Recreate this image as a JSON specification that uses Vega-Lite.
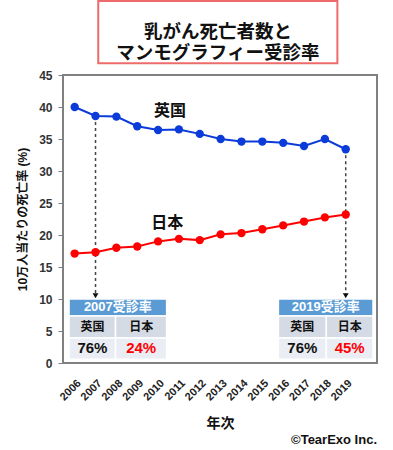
{
  "$schema": "https://vega.github.io/schema/vega-lite/v6.json",
  "width": 314,
  "height": 288,
  "padding": {"left": 16, "top": 0, "right": 5, "bottom": 5},
  "autosize": {"type": "pad"},
  "config": {
    "view": {"stroke": "#808080", "strokeWidth": 2},
    "font": "Liberation Sans, Noto Sans CJK JP",
    "text": {"font": "Liberation Sans, Noto Sans CJK JP"},
    "axis": {"labelOverlap": false, "labelFlush": false, "grid": false, "domain": false}
  },
  "datasets": {
    "series": [
      {"year": 2006, "country": "英国", "rate": 40.0},
      {"year": 2007, "country": "英国", "rate": 38.6},
      {"year": 2008, "country": "英国", "rate": 38.5},
      {"year": 2009, "country": "英国", "rate": 37.0},
      {"year": 2010, "country": "英国", "rate": 36.4},
      {"year": 2011, "country": "英国", "rate": 36.5},
      {"year": 2012, "country": "英国", "rate": 35.8},
      {"year": 2013, "country": "英国", "rate": 35.0},
      {"year": 2014, "country": "英国", "rate": 34.6},
      {"year": 2015, "country": "英国", "rate": 34.6},
      {"year": 2016, "country": "英国", "rate": 34.4},
      {"year": 2017, "country": "英国", "rate": 33.9},
      {"year": 2018, "country": "英国", "rate": 35.0},
      {"year": 2019, "country": "英国", "rate": 33.4},
      {"year": 2006, "country": "日本", "rate": 17.1},
      {"year": 2007, "country": "日本", "rate": 17.3},
      {"year": 2008, "country": "日本", "rate": 18.0},
      {"year": 2009, "country": "日本", "rate": 18.2},
      {"year": 2010, "country": "日本", "rate": 19.0},
      {"year": 2011, "country": "日本", "rate": 19.4},
      {"year": 2012, "country": "日本", "rate": 19.2},
      {"year": 2013, "country": "日本", "rate": 20.1},
      {"year": 2014, "country": "日本", "rate": 20.3},
      {"year": 2015, "country": "日本", "rate": 20.9},
      {"year": 2016, "country": "日本", "rate": 21.5},
      {"year": 2017, "country": "日本", "rate": 22.1},
      {"year": 2018, "country": "日本", "rate": 22.75},
      {"year": 2019, "country": "日本", "rate": 23.2}
    ],
    "titlebox": [{"x1": 2007.13, "x2": 2018.6, "y1": 46.83, "y2": 56.56}],
    "titletext": [
      {"x": 2012.87, "y": 51.76, "label": "乳がん死亡者数と\nマンモグラフィー受診率"}
    ],
    "arrows": [
      {"year": 2007, "from": 38.6, "to": 10.5},
      {"year": 2019, "from": 33.4, "to": 10.5}
    ],
    "serieslabels": [
      {"x": 2010.57, "y": 39.4, "label": "英国"},
      {"x": 2010.44, "y": 21.8, "label": "日本"}
    ],
    "cells": [
      {"part": "header", "x1": 2005.73, "x2": 2010.41, "y1": 7.35, "y2": 10.0},
      {"part": "row1", "x1": 2005.73, "x2": 2007.96, "y1": 3.9, "y2": 7.35},
      {"part": "row1", "x1": 2007.96, "x2": 2010.41, "y1": 3.9, "y2": 7.35},
      {"part": "row2", "x1": 2005.73, "x2": 2007.96, "y1": 0.6, "y2": 3.9},
      {"part": "row2", "x1": 2007.96, "x2": 2010.41, "y1": 0.6, "y2": 3.9},
      {"part": "header", "x1": 2015.77, "x2": 2020.31, "y1": 7.35, "y2": 10.0},
      {"part": "row1", "x1": 2015.77, "x2": 2018.07, "y1": 3.9, "y2": 7.35},
      {"part": "row1", "x1": 2018.07, "x2": 2020.31, "y1": 3.9, "y2": 7.35},
      {"part": "row2", "x1": 2015.77, "x2": 2018.07, "y1": 0.6, "y2": 3.9},
      {"part": "row2", "x1": 2018.07, "x2": 2020.31, "y1": 0.6, "y2": 3.9}
    ],
    "headers": [
      {"x": 2008.07, "y": 8.68, "label": "2007受診率"},
      {"x": 2018.04, "y": 8.68, "label": "2019受診率"}
    ],
    "colheads": [
      {"x": 2006.85, "y": 5.6, "label": "英国"},
      {"x": 2009.19, "y": 5.6, "label": "日本"},
      {"x": 2016.92, "y": 5.6, "label": "英国"},
      {"x": 2019.19, "y": 5.6, "label": "日本"}
    ],
    "values": [
      {"x": 2006.85, "y": 2.3, "label": "76%", "country": "英国"},
      {"x": 2009.19, "y": 2.3, "label": "24%", "country": "日本"},
      {"x": 2016.92, "y": 2.3, "label": "76%", "country": "英国"},
      {"x": 2019.19, "y": 2.3, "label": "45%", "country": "日本"}
    ],
    "credit": [{"x": 2020.5, "y": -12.0, "label": "©TearExo Inc."}]
  },
  "layer": [
    {
      "data": {"name": "titlebox"},
      "mark": {"type": "rect", "fill": "white", "stroke": "#ee6b6b", "strokeWidth": 2},
      "encoding": {
        "x": {"field": "x1", "type": "quantitative"},
        "x2": {"field": "x2"},
        "y": {"field": "y1", "type": "quantitative"},
        "y2": {"field": "y2"}
      }
    },
    {
      "data": {"name": "titletext"},
      "mark": {"type": "text", "fontSize": 18.5, "fontWeight": "bold", "color": "#111", "align": "center", "baseline": "middle", "font": "Noto Sans CJK JP", "lineBreak": "\n", "lineHeight": 21.5},
      "encoding": {
        "x": {"field": "x", "type": "quantitative"},
        "y": {"field": "y", "type": "quantitative"},
        "text": {"field": "label"}
      }
    },
    {
      "data": {"name": "arrows"},
      "mark": {"type": "rule", "strokeDash": [3, 3], "color": "#444", "strokeWidth": 1.5},
      "encoding": {
        "x": {"field": "year", "type": "quantitative"},
        "y": {"field": "from", "type": "quantitative"},
        "y2": {"field": "to"}
      }
    },
    {
      "data": {"name": "arrows"},
      "mark": {"type": "point", "shape": "triangle-down", "filled": true, "color": "#111", "size": 35, "opacity": 1},
      "encoding": {
        "x": {"field": "year", "type": "quantitative"},
        "y": {"field": "to", "type": "quantitative"}
      }
    },
    {
      "data": {"name": "series"},
      "mark": {"type": "line", "strokeWidth": 2, "point": {"filled": true, "size": 70, "opacity": 1}},
      "encoding": {
        "x": {"field": "year", "type": "quantitative", "scale": {"domain": [2005.44, 2020.5], "nice": false, "zero": false},
          "axis": {"values": [2006, 2007, 2008, 2009, 2010, 2011, 2012, 2013, 2014, 2015, 2016, 2017, 2018, 2019], "tickCount": 14, "format": "d", "labelAngle": -45, "labelOverlap": false, "labelSeparation": 0, "labelFontSize": 11, "labelFontWeight": "bold", "labelColor": "#222", "ticks": false, "labelPadding": 14, "title": "年次", "titleFontSize": 14, "titleFontWeight": "bold", "titleColor": "#111", "titlePadding": 14}},
        "y": {"field": "rate", "type": "quantitative", "scale": {"domain": [0, 45], "nice": false},
          "axis": {"values": [0, 5, 10, 15, 20, 25, 30, 35, 40, 45], "tickCount": 10, "format": "d", "labelOverlap": false, "labelSeparation": 0, "labelFontSize": 12, "labelFontWeight": "bold", "labelColor": "#333", "tickColor": "#808080", "tickSize": 5, "labelPadding": 6, "title": "10万人当たりの死亡率 (%)", "titleFontSize": 12, "titleFontWeight": "bold", "titleColor": "#111", "titlePadding": 9}},
        "color": {"field": "country", "type": "nominal", "scale": {"domain": ["英国", "日本"], "range": ["#0b3bd8", "#ff0000"]}, "legend": null}
      }
    },
    {
      "data": {"name": "serieslabels"},
      "mark": {"type": "text", "fontSize": 16, "fontWeight": "bold", "color": "#111", "align": "center", "baseline": "middle", "font": "Noto Sans CJK JP"},
      "encoding": {
        "x": {"field": "x", "type": "quantitative"},
        "y": {"field": "y", "type": "quantitative"},
        "text": {"field": "label"}
      }
    },
    {
      "data": {"name": "cells"},
      "mark": {"type": "rect", "stroke": "white", "strokeWidth": 1.5},
      "encoding": {
        "x": {"field": "x1", "type": "quantitative"},
        "x2": {"field": "x2"},
        "y": {"field": "y1", "type": "quantitative"},
        "y2": {"field": "y2"},
        "fill": {"field": "part", "type": "nominal", "scale": {"domain": ["header", "row1", "row2"], "range": ["#5b9bd5", "#d5dbe5", "#eaedf3"]}, "legend": null}
      }
    },
    {
      "data": {"name": "headers"},
      "mark": {"type": "text", "fontSize": 13, "fontWeight": "bold", "color": "white", "align": "center", "baseline": "middle"},
      "encoding": {
        "x": {"field": "x", "type": "quantitative"},
        "y": {"field": "y", "type": "quantitative"},
        "text": {"field": "label"}
      }
    },
    {
      "data": {"name": "colheads"},
      "mark": {"type": "text", "fontSize": 12, "fontWeight": "bold", "color": "#111", "align": "center", "baseline": "middle", "font": "Noto Sans CJK JP"},
      "encoding": {
        "x": {"field": "x", "type": "quantitative"},
        "y": {"field": "y", "type": "quantitative"},
        "text": {"field": "label"}
      }
    },
    {
      "data": {"name": "values"},
      "mark": {"type": "text", "fontSize": 15, "fontWeight": "bold", "align": "center", "baseline": "middle"},
      "encoding": {
        "x": {"field": "x", "type": "quantitative"},
        "y": {"field": "y", "type": "quantitative"},
        "text": {"field": "label"},
        "color": {"field": "country", "type": "nominal", "scale": {"domain": ["英国", "日本"], "range": ["#111111", "#ff0000"]}, "legend": null}
      }
    },
    {
      "data": {"name": "credit"},
      "mark": {"type": "text", "fontSize": 13, "fontWeight": "bold", "color": "#111", "align": "right", "baseline": "middle"},
      "encoding": {
        "x": {"field": "x", "type": "quantitative"},
        "y": {"field": "y", "type": "quantitative"},
        "text": {"field": "label"}
      }
    }
  ],
  "resolve": {"scale": {"color": "independent"}}
}
